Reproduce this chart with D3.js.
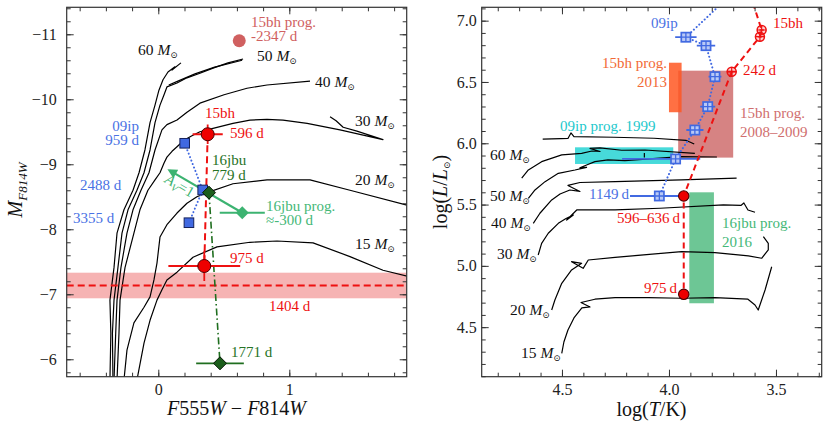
<!DOCTYPE html>
<html>
<head>
<meta charset="utf-8">
<script src="https://cdn.jsdelivr.net/npm/d3@7"></script>
<style>
  body { margin: 0; background: #fff; }
</style>
</head>
<body>
<div id="chart"></div>
<script>
// ---------- left panel: colour-magnitude diagram (F555W-F814W, M_F814W) ----------
var cmdTrack60 = [[-0.369,-5.68],[-0.362,-6.40],[-0.369,-6.91],[-0.338,-7.41],[-0.315,-7.94],[-0.262,-8.30],[-0.193,-8.60],[-0.147,-8.87],[-0.102,-9.22],[-0.063,-9.64],[-0.025,-9.91],[0.005,-10.14],[0.036,-10.30],[0.074,-10.42],[0.127,-10.50],[0.105,-10.45],[0.173,-10.56]];
var cmdTrack50 = [[-0.346,-5.68],[-0.350,-6.40],[-0.338,-6.91],[-0.308,-7.41],[-0.277,-7.94],[-0.231,-8.30],[-0.163,-8.60],[-0.109,-8.87],[-0.063,-9.22],[-0.025,-9.64],[0.013,-9.91],[0.044,-10.07],[0.066,-10.19],[0.143,-10.25],[0.219,-10.33],[0.318,-10.40],[0.418,-10.48],[0.532,-10.56],[0.647,-10.62]];
var cmdTrack50b = [[0.08,-10.22],[0.15,-10.28],[0.28,-10.39],[0.43,-10.495],[0.64,-10.60]];
var cmdTrack40 = [[-0.338,-5.68],[-0.325,-6.40],[-0.315,-6.91],[-0.285,-7.41],[-0.239,-7.94],[-0.193,-8.30],[-0.132,-8.60],[-0.071,-8.87],[-0.025,-9.22],[0.028,-9.53],[0.066,-9.61],[0.143,-9.68],[0.219,-9.80],[0.318,-9.94],[0.502,-10.07],[0.677,-10.17],[0.830,-10.22],[1.158,-10.28]];
var cmdTrack30 = [[-0.315,-5.68],[-0.300,-6.40],[-0.292,-6.91],[-0.254,-7.41],[-0.186,-7.94],[-0.140,-8.30],[-0.079,-8.60],[-0.025,-8.76],[0.013,-8.87],[0.044,-9.02],[0.066,-9.11],[0.105,-9.20],[0.143,-9.27],[0.196,-9.37],[0.257,-9.44],[0.318,-9.50],[0.395,-9.54],[0.471,-9.58],[0.570,-9.63],[0.700,-9.68],[0.830,-9.69],[0.952,-9.68],[1.136,-9.63],[1.387,-9.53],[1.715,-9.38],[1.516,-9.51],[1.411,-9.57],[1.357,-9.67],[1.311,-9.73]];
var cmdTrack20 = [[-0.262,-5.68],[-0.239,-6.14],[-0.186,-6.56],[-0.109,-6.80],[-0.063,-6.96],[-0.033,-7.22],[-0.010,-7.48],[0.013,-7.88],[0.066,-8.07],[0.143,-8.25],[0.219,-8.40],[0.295,-8.50],[0.395,-8.58],[0.570,-8.70],[0.830,-8.76],[1.158,-8.76],[1.463,-8.60],[1.898,-8.37]];
var cmdTrack15 = [[-0.163,-5.68],[-0.109,-6.25],[-0.063,-6.60],[-0.010,-6.91],[0.028,-7.07],[0.066,-7.22],[0.143,-7.34],[0.265,-7.57],[0.448,-7.73],[0.700,-7.80],[0.906,-7.82],[1.181,-7.79],[1.463,-7.58],[1.715,-7.37],[1.921,-7.27]];

// SN 2015bh (596 d, 975 d), its progenitor and the 1404 d level
var sn15bhCmd = [[0.377,-9.462],[0.351,-7.435]];
var sn15bhCmdErrC = [0.115,0.274];
var sn15bhCmdErrM = [0.15,0.23];
var sn15bhProgCmd = [0.618,-10.90];
var sn15bhLateMag = -7.135;
var sn15bhLateErr = 0.197;
// SN 2009ip (959, 2488, 3355 d)
var sn09ipCmd = [[0.2015,-9.323],[0.339,-8.605],[0.234,-8.101]];
// SN 2016jbu (779, 1771 d) and progenitor
var sn16jbuCmd = [[0.387,-8.563],[0.471,-5.938]];
var sn16jbuCmdErrC = [0,0.182];
var sn16jbuCmdErrM = [0,0.09];
var sn16jbuProgCmd = [0.641,-8.255];
var sn16jbuProgErrC = 0.172;
var avArrow = [[0.641,-8.255],[0.089,-8.902]];

// ---------- right panel: HR diagram (log T, log L) ----------
var hrdTrack60a = [[4.688,5.715],[4.657,5.782],[4.595,5.850],[4.501,5.905],[4.408,5.918],[4.360,5.937],[4.322,5.933],[4.369,5.958],[4.322,5.962],[4.221,5.943],[4.112,5.945],[3.879,5.918]];
var hrdTrack60b = [[3.882,5.994],[3.921,6.024],[4.070,6.041],[4.257,6.049],[4.444,6.054],[4.458,6.084],[4.472,6.039],[4.505,6.038],[4.590,6.033]];
var hrdTrack50 = [[4.657,5.551],[4.626,5.619],[4.579,5.687],[4.517,5.755],[4.439,5.782],[4.385,5.804],[4.416,5.799],[4.385,5.823],[4.346,5.850],[4.285,5.864],[4.206,5.858],[3.944,5.891],[3.776,5.888]];
var hrdTrack50tick = [[4.115,5.921],[4.115,5.884]];
var hrdTrack40 = [[4.634,5.347],[4.603,5.429],[4.548,5.538],[4.509,5.586],[4.463,5.619],[4.416,5.607],[4.472,5.656],[4.416,5.680],[4.252,5.687],[3.941,5.701],[3.684,5.715]];
var hrdTrack30 = [[4.611,5.089],[4.595,5.184],[4.564,5.266],[4.517,5.347],[4.481,5.387],[4.447,5.415],[4.478,5.374],[4.431,5.456],[4.252,5.456],[4.042,5.470],[3.746,5.497],[3.664,5.493],[3.650,5.513],[3.631,5.456],[3.598,5.437]];
var hrdTrack20 = [[4.548,4.640],[4.533,4.722],[4.501,4.858],[4.455,4.967],[4.408,5.021],[4.455,5.034],[4.401,4.980],[4.377,5.048],[4.252,5.070],[3.941,5.116],[3.785,5.108],[3.629,5.081],[3.567,5.062],[3.536,5.130],[3.536,5.184],[3.559,5.238]];
var hrdTrack15 = [[4.501,4.287],[4.491,4.379],[4.472,4.477],[4.444,4.575],[4.407,4.657],[4.369,4.665],[4.411,4.701],[4.346,4.728],[4.252,4.741],[4.098,4.741],[3.941,4.736],[3.785,4.741],[3.631,4.728],[3.598,4.681],[3.583,4.640],[3.551,4.803],[3.520,4.993]];

// progenitor boxes: [logT hot, logT cool, logL low, logL high]
var box15bh2008 = [3.957,3.700,5.883,6.592];
var box15bh2013 = [4.000,3.941,6.253,6.657];
var box09ip1999 = [4.439,3.980,5.831,5.967];
var box16jbu2016 = [3.905,3.790,4.695,5.600];

// SN 2015bh epochs (first point lies above the plot)
var sn15bhHrd = [[3.636,7.30],[3.567,6.924],[3.575,6.869],[3.707,6.584],[3.931,5.570],[3.931,4.768]];
var sn15bhHrdErrT = [0.01,0.01,0.01,0.023,0,0];
var sn15bhHrdFilled = [false,false,false,false,true,true];
// SN 2009ip epochs (first point lies above the plot)
var sn09ipHrd = [[3.657,7.30],[3.921,6.865],[3.827,6.796],[3.785,6.543],[3.819,6.299],[3.879,6.108],[3.969,5.872],[4.045,5.570]];
var sn09ipHrdErrHot = [0.05,0.05,0.043,0.03,0.035,0.04,0.25,0.137];
var sn09ipHrdErrCool = [0.05,0.05,0.043,0.03,0.035,0.04,0.115,0.096];

// ---------- colours / font ----------
var red = "#ee1111", blue = "#4169e1", blueText = "#4a72e4",
    dkGreen = "#1f6e1f", dkGreenText = "#267326", seaGreen = "#3cb371", seaGreenText = "#45b878",
    progRed = "#d06060";
var serif = "'Liberation Serif', 'DejaVu Serif', 'Noto Serif', 'Times New Roman', Times, serif";

var svg = d3.select("#chart").append("svg")
  .attr("width", 830)
  .attr("height", 430)
  .attr("font-family", serif);

var boxL = {x0: 66.7, x1: 406.7, y0: 7.3, y1: 376.7};
var boxR = {x0: 481.7, x1: 821.7, y0: 7.3, y1: 376.7};

var xL = d3.scaleLinear().domain([-0.699, 1.896]).range([boxL.x0, boxL.x1]);
var yL = d3.scaleLinear().domain([-11.415, -5.732]).range([boxL.y0, boxL.y1]);
var xR = d3.scaleLinear().domain([4.875, 3.2864]).range([boxR.x0, boxR.x1]);
var yR = d3.scaleLinear().domain([7.109, 4.096]).range([boxR.y0, boxR.y1]);

var defs = svg.append("defs");
[["clipL", boxL], ["clipR", boxR]].forEach(function(c) {
  defs.append("clipPath").attr("id", c[0]).append("rect")
    .attr("x", c[1].x0).attr("y", c[1].y0)
    .attr("width", c[1].x1 - c[1].x0).attr("height", c[1].y1 - c[1].y0);
});
defs.append("marker")
  .attr("id", "avHead")
  .attr("viewBox", "0 0 10 10")
  .attr("refX", 7).attr("refY", 5)
  .attr("markerWidth", 5).attr("markerHeight", 4.4)
  .attr("orient", "auto")
  .append("path").attr("d", "M0,0 L10,5 L0,10 z").attr("fill", seaGreen);

function steps(a, b, s) {
  return d3.range(Math.round((b - a) / s) + 1).map(i => +(a + i * s).toFixed(3));
}

// text with italic / subscript pieces
function addText(x, y, parts, opt) {
  opt = opt || {};
  var t = svg.append("text")
    .attr("x", x).attr("y", y)
    .attr("font-family", serif)
    .attr("fill", opt.color || "#111")
    .attr("font-size", opt.size || 15)
    .attr("text-anchor", opt.anchor || "start")
    .style("white-space", "pre");
  if (opt.rotate) t.attr("transform", `rotate(${opt.rotate},${x},${y})`);
  var shift = 0;
  parts.forEach(function(p) {
    var s = typeof p === "string" ? {t: p} : p;
    var ts = t.append("tspan").text(s.t);
    if (s.i) ts.attr("font-style", "italic");
    var want = s.sub || 0;
    if (want !== shift) { ts.attr("dy", want - shift); shift = want; }
    if (s.size) ts.attr("font-size", s.size);
  });
  return t;
}
var sun = {t: "\u2299", sub: 3, size: 9};
function massLabel(x, y, m) { return addText(x, y, [m + " ", {t: "M", i: true}, sun], {size: 15.5}); }

function drawAxes(box, x, y, xMajor, xMinor, yMajor, yMinor, xFmt, yFmt, yPad) {
  var g = svg.append("g");
  function put(axis, tx, ty) {
    g.append("g").attr("transform", `translate(${tx},${ty})`).call(axis);
  }
  put(d3.axisBottom(x).tickValues(xMinor).tickSize(-4).tickFormat(""), 0, box.y1);
  put(d3.axisBottom(x).tickValues(xMajor).tickSize(-7).tickPadding(7).tickFormat(xFmt), 0, box.y1);
  put(d3.axisTop(x).tickValues(xMinor).tickSize(-4).tickFormat(""), 0, box.y0);
  put(d3.axisTop(x).tickValues(xMajor).tickSize(-7).tickFormat(""), 0, box.y0);
  put(d3.axisLeft(y).tickValues(yMinor).tickSize(-4).tickFormat(""), box.x0, 0);
  put(d3.axisLeft(y).tickValues(yMajor).tickSize(-7).tickPadding(yPad).tickFormat(yFmt), box.x0, 0);
  put(d3.axisRight(y).tickValues(yMinor).tickSize(-4).tickFormat(""), box.x1, 0);
  put(d3.axisRight(y).tickValues(yMajor).tickSize(-7).tickFormat(""), box.x1, 0);
  g.selectAll(".domain").remove();
  g.selectAll("g").attr("font-family", serif).attr("font-size", 16);
  g.selectAll(".tick line").attr("stroke", "#333").attr("stroke-width", 1);
  g.selectAll(".tick text")
    .attr("font-family", serif)
    .attr("font-size", 16)
    .attr("fill", "#222");
  g.append("rect")
    .attr("x", box.x0).attr("y", box.y0)
    .attr("width", box.x1 - box.x0).attr("height", box.y1 - box.y0)
    .attr("fill", "none").attr("stroke", "#333").attr("stroke-width", 1.2);
}

var lineL = d3.line().x(d => xL(d[0])).y(d => yL(d[1]));
var lineR = d3.line().x(d => xR(d[0])).y(d => yR(d[1]));

// ================= LEFT PANEL =================
var gL = svg.append("g").attr("clip-path", "url(#clipL)");

gL.append("rect")
  .attr("x", boxL.x0).attr("width", boxL.x1 - boxL.x0)
  .attr("y", yL(sn15bhLateMag - sn15bhLateErr))
  .attr("height", yL(sn15bhLateMag + sn15bhLateErr) - yL(sn15bhLateMag - sn15bhLateErr))
  .attr("fill", "#f08080").attr("opacity", 0.6);

gL.selectAll(".trk")
  .data([cmdTrack60, cmdTrack50, cmdTrack50b, cmdTrack40, cmdTrack30, cmdTrack20, cmdTrack15])
  .enter().append("path")
  .attr("d", lineL)
  .attr("fill", "none").attr("stroke", "#000").attr("stroke-width", 1.2)
  .attr("stroke-linejoin", "round");

gL.append("line")
  .attr("x1", boxL.x0).attr("x2", boxL.x1)
  .attr("y1", yL(sn15bhLateMag)).attr("y2", yL(sn15bhLateMag))
  .attr("stroke", red).attr("stroke-width", 1.8).attr("stroke-dasharray", "7,4");

// connecting lines
gL.append("path").attr("d", lineL(sn16jbuCmd))
  .attr("fill", "none").attr("stroke", dkGreen).attr("stroke-width", 1.6)
  .attr("stroke-dasharray", "7,3,1.5,3");
gL.append("path").attr("d", lineL(sn15bhCmd))
  .attr("fill", "none").attr("stroke", red).attr("stroke-width", 2)
  .attr("stroke-dasharray", "7,4");
gL.append("path").attr("d", lineL(sn09ipCmd))
  .attr("fill", "none").attr("stroke", blue).attr("stroke-width", 2)
  .attr("stroke-linecap", "round").attr("stroke-dasharray", "0.1,3.6");

// A_V = 1 vector
gL.append("path").attr("d", lineL(avArrow))
  .attr("fill", "none").attr("stroke", seaGreen).attr("stroke-width", 2.2)
  .attr("marker-end", "url(#avHead)");

// error bars
function errBar(g, x1, y1, x2, y2, col, w) {
  g.append("line").attr("x1", x1).attr("y1", y1).attr("x2", x2).attr("y2", y2)
    .attr("stroke", col).attr("stroke-width", w || 1.8);
}
sn15bhCmd.forEach(function(d, i) {
  errBar(gL, xL(d[0] - sn15bhCmdErrC[i]), yL(d[1]), xL(d[0] + sn15bhCmdErrC[i]), yL(d[1]), red);
  errBar(gL, xL(d[0]), yL(d[1] - sn15bhCmdErrM[i]), xL(d[0]), yL(d[1] + sn15bhCmdErrM[i]), red);
});
sn16jbuCmd.forEach(function(d, i) {
  if (!sn16jbuCmdErrC[i]) return;
  errBar(gL, xL(d[0] - sn16jbuCmdErrC[i]), yL(d[1]), xL(d[0] + sn16jbuCmdErrC[i]), yL(d[1]), dkGreen);
  errBar(gL, xL(d[0]), yL(d[1] - sn16jbuCmdErrM[i]), xL(d[0]), yL(d[1] + sn16jbuCmdErrM[i]), dkGreen);
});
errBar(gL, xL(sn16jbuProgCmd[0] - sn16jbuProgErrC), yL(sn16jbuProgCmd[1]),
  xL(sn16jbuProgCmd[0] + sn16jbuProgErrC), yL(sn16jbuProgCmd[1]), seaGreen, 2);

// markers
gL.append("circle")
  .attr("cx", xL(sn15bhProgCmd[0])).attr("cy", yL(sn15bhProgCmd[1])).attr("r", 6.5)
  .attr("fill", progRed);
gL.selectAll(".sq09").data(sn09ipCmd).enter().append("rect")
  .attr("x", d => xL(d[0]) - 4.8).attr("y", d => yL(d[1]) - 4.8)
  .attr("width", 9.6).attr("height", 9.6)
  .attr("fill", blue).attr("stroke", "#15215c").attr("stroke-width", 1);
gL.selectAll(".c15").data(sn15bhCmd).enter().append("circle")
  .attr("cx", d => xL(d[0])).attr("cy", d => yL(d[1])).attr("r", 6.5)
  .attr("fill", "#ee0000").attr("stroke", "#4a0000").attr("stroke-width", 1);
function diamond(g, cx, cy, r, fill, stroke) {
  g.append("path")
    .attr("d", `M${cx},${cy - r}L${cx + r},${cy}L${cx},${cy + r}L${cx - r},${cy}Z`)
    .attr("fill", fill).attr("stroke", stroke || "none").attr("stroke-width", 1);
}
sn16jbuCmd.forEach(d => diamond(gL, xL(d[0]), yL(d[1]), 6.5, "#1b5e1b", "#061806"));
diamond(gL, xL(sn16jbuProgCmd[0]), yL(sn16jbuProgCmd[1]), 6.5, seaGreen);

// labels
addText(251, 27, ["15bh prog."], {color: progRed});
addText(251, 41, ["-2347 d"], {color: progRed});
massLabel(138, 55, 60);
massLabel(257, 61, 50);
massLabel(315, 87, 40);
massLabel(355, 126, 30);
massLabel(355, 185, 20);
massLabel(355, 249, 15);
addText(205, 118, ["15bh"], {color: red});
addText(230, 138, ["596 d"], {color: red});
addText(139, 131, ["09ip"], {color: blueText, anchor: "end"});
addText(139, 145, ["959 d"], {color: blueText, anchor: "end"});
addText(212, 165, ["16jbu"], {color: dkGreenText});
addText(212, 180, ["779 d"], {color: dkGreenText});
addText(80, 190, ["2488 d"], {color: blueText});
addText(73, 223, ["3355 d"], {color: blueText});
addText(266, 211, ["16jbu prog."], {color: seaGreenText});
addText(266, 225, ["\u2248-300 d"], {color: seaGreenText});
addText(230, 263, ["975 d"], {color: red});
addText(269, 311, ["1404 d"], {color: red});
addText(231, 357, ["1771 d"], {color: dkGreenText});

(function() {
  var tip = [xL(avArrow[1][0]), yL(avArrow[1][1])];
  var base = [xL(avArrow[0][0]), yL(avArrow[0][1])];
  var ang = Math.atan2(base[1] - tip[1], base[0] - tip[0]);
  var f = 0.19, off = 13;
  var px = tip[0] + f * (base[0] - tip[0]) - Math.sin(ang) * off;
  var py = tip[1] + f * (base[1] - tip[1]) + Math.cos(ang) * off;
  addText(px, py, [{t: "A", i: true}, {t: "V", i: true, sub: 3, size: 10}, "=1"],
    {color: seaGreen, size: 15, anchor: "middle", rotate: ang * 180 / Math.PI});
})();

drawAxes(boxL, xL, yL, [0, 1], steps(-0.6, 1.8, 0.2),
  [-11, -10, -9, -8, -7, -6], steps(-11.4, -5.8, 0.2),
  d3.format("d"), d3.format("d"), 10);

addText(22, 190, [{t: "M", i: true}, {t: "F814W", i: true, sub: 5, size: 13}],
  {size: 20, anchor: "middle", rotate: -90});
addText(236.5, 415, [{t: "F", i: true}, "555", {t: "W", i: true}, " \u2212 ",
  {t: "F", i: true}, "814", {t: "W", i: true}], {size: 20, anchor: "middle"});

// ================= RIGHT PANEL =================
var gR = svg.append("g").attr("clip-path", "url(#clipR)");

function drawBox(b, fill, op) {
  gR.append("rect")
    .attr("x", xR(b[0])).attr("width", xR(b[1]) - xR(b[0]))
    .attr("y", yR(b[3])).attr("height", yR(b[2]) - yR(b[3]))
    .attr("fill", fill).attr("opacity", op);
}
drawBox(box15bh2008, "#c85a5a", 0.75);
drawBox(box15bh2013, "#ff5722", 0.85);
drawBox(box09ip1999, "#00cccc", 0.72);
drawBox(box16jbu2016, seaGreen, 0.75);

gR.selectAll(".trk")
  .data([hrdTrack60a, hrdTrack60b, hrdTrack50, hrdTrack50tick, hrdTrack40, hrdTrack30, hrdTrack20, hrdTrack15])
  .enter().append("path")
  .attr("d", lineR)
  .attr("fill", "none").attr("stroke", "#000").attr("stroke-width", 1.2)
  .attr("stroke-linejoin", "round");

// 09ip error bars and dotted path
sn09ipHrd.forEach(function(d, i) {
  errBar(gR, xR(d[0] + sn09ipHrdErrHot[i]), yR(d[1]), xR(d[0] - sn09ipHrdErrCool[i]), yR(d[1]), blue, 1.8);
});
gR.append("path").attr("d", lineR(sn09ipHrd))
  .attr("fill", "none").attr("stroke", blue).attr("stroke-width", 2)
  .attr("stroke-linecap", "round").attr("stroke-dasharray", "0.1,3.6");

// 15bh error bars and dashed path
sn15bhHrd.forEach(function(d, i) {
  if (sn15bhHrdErrT[i]) errBar(gR, xR(d[0] + sn15bhHrdErrT[i]), yR(d[1]), xR(d[0] - sn15bhHrdErrT[i]), yR(d[1]), red, 1.6);
});
gR.append("path").attr("d", lineR(sn15bhHrd))
  .attr("fill", "none").attr("stroke", red).attr("stroke-width", 2)
  .attr("stroke-dasharray", "6,4");

// 09ip squares with cross
sn09ipHrd.forEach(function(d) {
  var cx = xR(d[0]), cy = yR(d[1]), h = 4.6;
  gR.append("rect").attr("x", cx - h).attr("y", cy - h).attr("width", 2 * h).attr("height", 2 * h)
    .attr("fill", "#b9c9f6").attr("stroke", blue).attr("stroke-width", 1.7);
  errBar(gR, cx - h, cy, cx + h, cy, blue, 1.3);
  errBar(gR, cx, cy - h, cx, cy + h, blue, 1.3);
});

// 15bh circles
sn15bhHrd.forEach(function(d, i) {
  var cx = xR(d[0]), cy = yR(d[1]);
  if (sn15bhHrdFilled[i]) {
    gR.append("circle").attr("cx", cx).attr("cy", cy).attr("r", 5.2)
      .attr("fill", "#ee0000").attr("stroke", "#4a0000").attr("stroke-width", 1.1);
  } else {
    gR.append("circle").attr("cx", cx).attr("cy", cy).attr("r", 4.5)
      .attr("fill", "rgba(255,60,60,0.25)").attr("stroke", red).attr("stroke-width", 1.5);
    errBar(gR, cx - 4.5, cy, cx + 4.5, cy, red, 1.2);
    errBar(gR, cx, cy - 4.5, cx, cy + 4.5, red, 1.2);
  }
});

// labels
addText(651, 28, ["09ip"], {color: blueText});
addText(773, 28, ["15bh"], {color: red});
addText(743, 75, ["242\u2009d"], {color: red});
addText(667, 68, ["15bh prog."], {color: "#f26a36", anchor: "end"});
addText(667, 87, ["2013"], {color: "#f26a36", anchor: "end"});
addText(740, 118, ["15bh prog."], {color: "#d06e6e"});
addText(740, 137, ["2008\u20132009"], {color: "#d06e6e"});
addText(560, 131, ["09ip prog. 1999"], {color: "#22c8cc"});
addText(629, 199, ["1149\u2009d"], {color: blueText, anchor: "end"});
addText(680, 223, ["596\u2013636\u2009d"], {color: red, anchor: "end"});
addText(722, 228, ["16jbu prog."], {color: seaGreenText});
addText(722, 247, ["2016"], {color: seaGreenText});
addText(677, 293, ["975\u2009d"], {color: red, anchor: "end"});
massLabel(490, 160, 60);
massLabel(490, 201, 50);
massLabel(491, 228, 40);
massLabel(497, 259, 30);
massLabel(510, 315, 20);
massLabel(521, 358, 15);

drawAxes(boxR, xR, yR, [4.5, 4.0, 3.5], steps(3.3, 4.8, 0.1),
  [4.5, 5.0, 5.5, 6.0, 6.5, 7.0], steps(4.1, 7.1, 0.1),
  d3.format(".1f"), d3.format(".1f"), 5);

addText(447, 192, ["log(", {t: "L", i: true}, "/", {t: "L", i: true}, sun, ")"],
  {size: 20, anchor: "middle", rotate: -90});
addText(651.5, 416, ["log(", {t: "T", i: true}, "/K)"], {size: 20, anchor: "middle"});
</script>
</body>
</html>
